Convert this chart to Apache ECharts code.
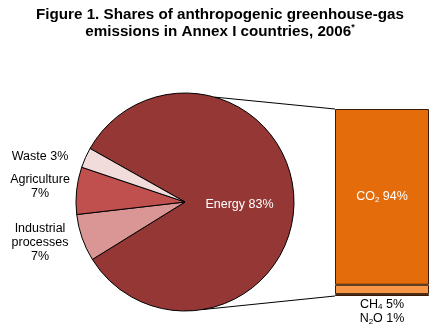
<!DOCTYPE html>
<html>
<head>
<meta charset="utf-8">
<script src="https://cdn.jsdelivr.net/npm/echarts@6/dist/echarts.min.js"></script>
<style>
  html, body { margin: 0; padding: 0; background: #fff; }
  #chart { width: 440px; height: 330px; }
</style>
</head>
<body>
<div id="chart"></div>
<script>
// Sector shares of total emissions (pie)
const sectors = ['Energy', 'Industrial\nprocesses', 'Agriculture', 'Waste'];
const sectorShares = [83, 7, 7, 3];
// Gas breakdown of the energy sector (stacked bar, bottom to top)
const gases = ['N{s|2}O', 'CH{s|4}', 'CO{s|2}'];
const gasShares = [1, 5, 94];

const FONT = 'Liberation Sans, Arial, sans-serif';
const sectorColors = ['#953735', '#D99694', '#C0504D', '#F2DCDB'];
const gasColors = ['#7A3A0C', '#F79646', '#E46C0A'];

const pieCenter = [185, 202];
const pieRadius = 109;
const barGrid = { left: 335, top: 109, width: 94, height: 187 };

const chart = echarts.init(document.getElementById('chart'), null, { renderer: 'canvas' });

// Connector lines from the pie rim to the bar corners
function rimPoint(degFromTop, below) {
  const a = degFromTop * Math.PI / 180;
  const dx = pieRadius * Math.sin(a);
  const dy = pieRadius * Math.cos(a);
  return [pieCenter[0] + dx, pieCenter[1] + (below ? dy : -dy)];
}
const topRim = rimPoint(15.8, false);
const botRim = rimPoint(9.5, true);

// Fixed label anchors for the small sectors, left of the pie
const sideLabelAnchors = { 1: [40, 243], 2: [40, 187], 3: [40, 157] };

chart.setOption({
  animation: false,
  title: {
    text: 'Figure 1. Shares of anthropogenic greenhouse-gas\nemissions in Annex I countries, 2006{sup|*}',
    left: 'center',
    top: 1,
    textStyle: {
      fontFamily: FONT,
      fontSize: 15.2,
      fontWeight: 'bold',
      color: '#000',
      lineHeight: 17,
      rich: {
        sup: { fontSize: 9, fontWeight: 'bold', fontFamily: FONT, color: '#000', padding: [0, 0, 7, 0] }
      }
    }
  },
  grid: barGrid,
  xAxis: { type: 'category', data: ['Energy'], show: false },
  yAxis: { type: 'value', min: 0, max: 100, show: false },
  graphic: [
    { type: 'line', z: 10, shape: { x1: topRim[0], y1: topRim[1], x2: barGrid.left, y2: barGrid.top }, style: { stroke: '#000', lineWidth: 1 } },
    { type: 'line', z: 10, shape: { x1: botRim[0], y1: botRim[1], x2: barGrid.left, y2: barGrid.top + barGrid.height }, style: { stroke: '#000', lineWidth: 1 } }
  ],
  series: [
    {
      type: 'pie',
      center: pieCenter,
      radius: pieRadius,
      startAngle: 150.6,
      clockwise: true,
      avoidLabelOverlap: false,
      itemStyle: { borderColor: '#000', borderWidth: 1 },
      labelLine: { show: false },
      label: {
        position: 'outside',
        fontFamily: FONT,
        fontSize: 12.5,
        lineHeight: 14,
        color: '#000',
        align: 'center',
        formatter: p => p.name + (p.dataIndex === 1 || p.dataIndex === 2 ? '\n' : ' ') + p.value + '%'
      },
      labelLayout: p => {
        const anchor = sideLabelAnchors[p.dataIndex];
        if (!anchor) return { dx: -3, dy: 4 };
        return { x: anchor[0], y: anchor[1], align: 'center', verticalAlign: 'middle' };
      },
      data: sectors.map((name, i) => {
        const item = { name, value: sectorShares[i], itemStyle: { color: sectorColors[i] } };
        if (i === 0) {
          item.label = { position: 'inside', color: '#fff', fontSize: 12.5 };
        }
        return item;
      })
    },
    ...gases.map((g, i) => ({
      type: 'bar',
      stack: 'gas',
      barWidth: '100%',
      itemStyle: { color: gasColors[i], borderColor: '#3a1c06', borderWidth: 1 },
      label: {
        show: true,
        position: i === 2 ? 'inside' : 'bottom',
        distance: i === 0 ? 16 : 3,
        fontFamily: FONT,
        fontSize: 12.5,
        color: i === 2 ? '#fff' : '#000',
        formatter: g + ' ' + gasShares[i] + '%',
        rich: {
          s: { fontSize: 8, fontFamily: FONT, color: i === 2 ? '#fff' : '#000', padding: [6, 0, 0, 0] }
        }
      },
      data: [gasShares[i]]
    }))
  ]
});
</script>
</body>
</html>
